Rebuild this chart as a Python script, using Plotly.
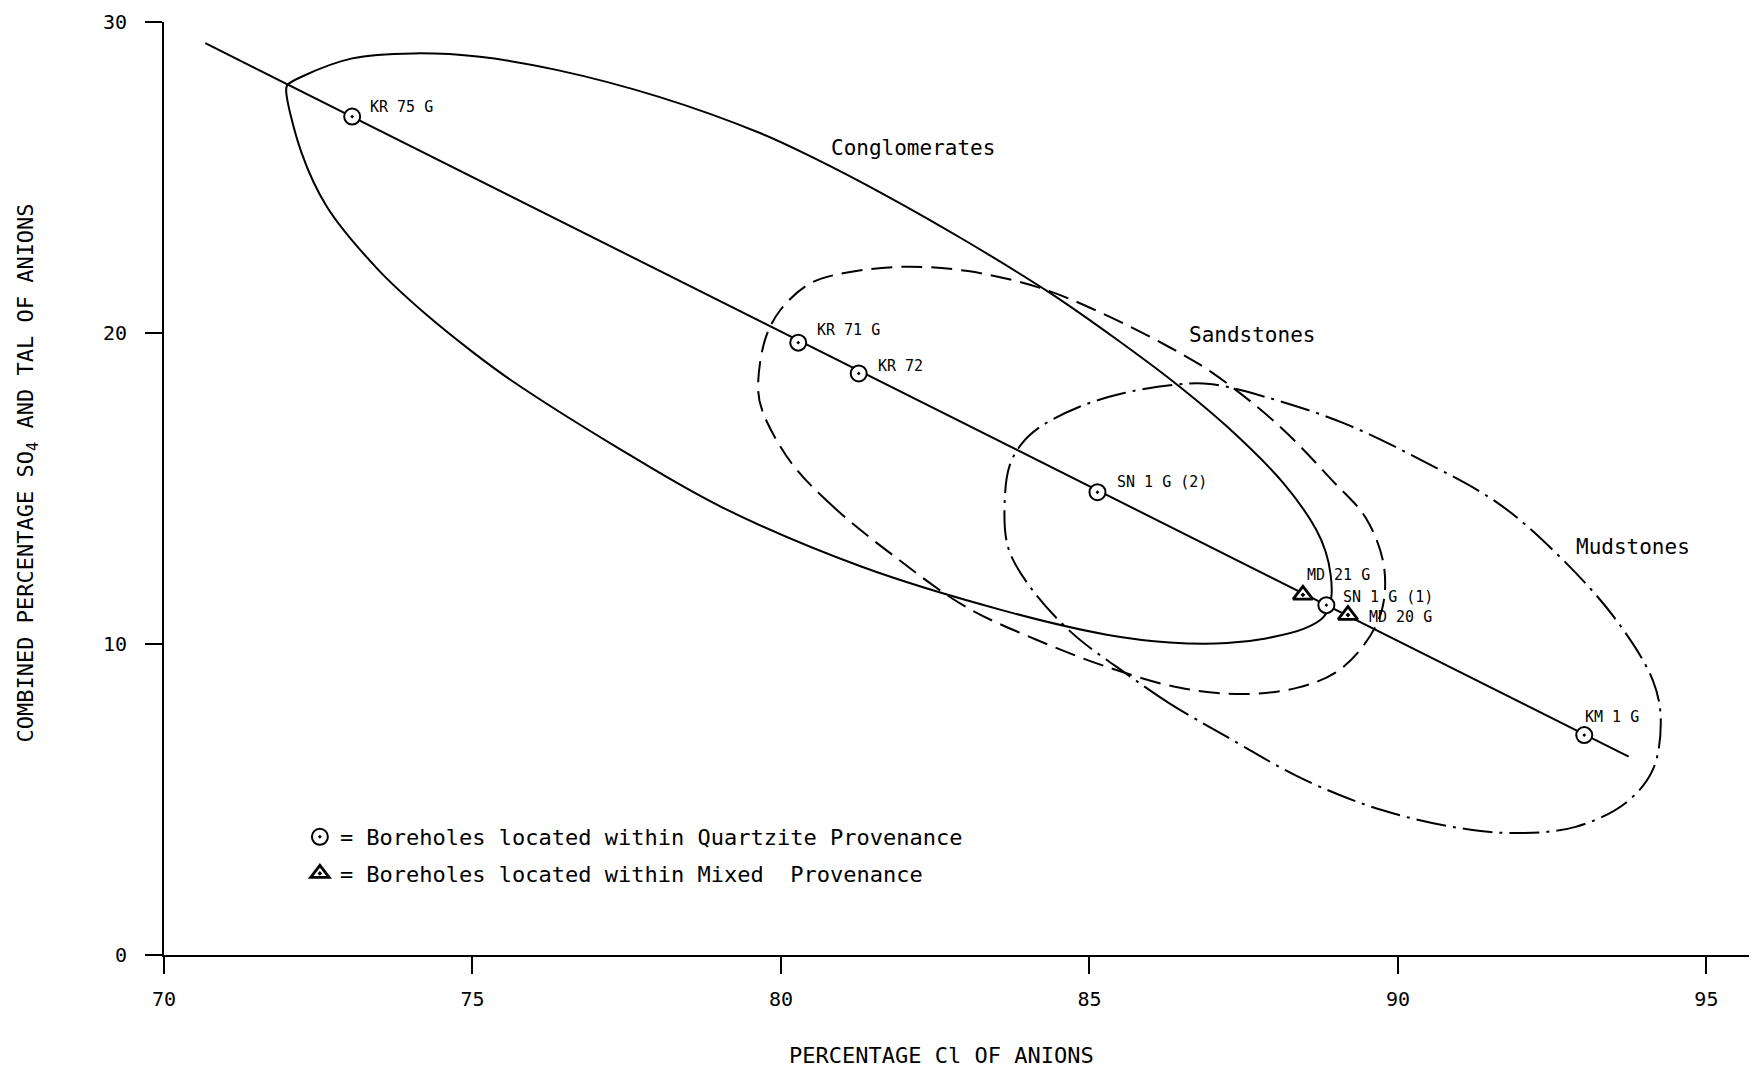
import plotly.graph_objects as go

# ---------------- data ----------------
quartz_names = ["KR 75 G", "KR 71 G", "KR 72", "SN 1 G (2)", "SN 1 G (1)", "KM 1 G"]
quartz_cl = [73.05, 80.28, 81.26, 85.13, 88.84, 93.02]
quartz_so4 = [26.96, 19.69, 18.70, 14.88, 11.25, 7.07]

mixed_names = ["MD 21 G", "MD 20 G"]
mixed_cl = [88.46, 89.19]
mixed_so4 = [11.58, 10.93]

trend_cl = [70.67, 93.74]
trend_so4 = [29.32, 6.38]

congl_cl = [72.00, 72.23, 73.05, 74.04, 75.12, 76.36, 78.01, 79.66, 80.49, 81.74,
            82.97, 84.36, 85.41, 86.35, 87.23, 88.14, 88.67, 88.83, 88.91, 88.92,
            88.80, 88.49, 87.86, 87.23, 86.30, 85.28, 83.58, 81.30, 79.03, 77.33,
            75.62, 75.02, 74.27, 73.47, 72.64, 72.23, 71.98, 72.00]
congl_so4 = [27.97, 28.24, 28.83, 28.99, 28.88, 28.46, 27.60, 26.43, 25.67, 24.38,
             22.99, 21.29, 19.84, 18.45, 16.99, 15.18, 13.70, 12.96, 12.22, 11.51,
             10.88, 10.50, 10.18, 10.03, 10.05, 10.30, 11.09, 12.49, 14.41, 16.34,
             18.49, 19.36, 20.56, 22.04, 24.06, 25.79, 27.81, 27.97]

sand_cl = [81.87, 80.85, 80.17, 79.71, 79.63, 79.74, 79.99, 80.49, 81.12, 82.01,
           83.03, 84.20, 85.20, 86.29, 87.00, 88.06, 88.93, 89.48, 89.77, 89.74,
           89.45, 88.98, 88.36, 87.52, 86.47, 85.29, 84.15, 83.00, 81.87]
sand_so4 = [12.77, 14.41, 15.82, 17.43, 18.17, 19.77, 20.74, 21.61, 21.96, 22.13,
            21.99, 21.45, 20.64, 19.55, 18.71, 17.04, 15.27, 14.05, 12.54, 11.09,
            9.97, 9.07, 8.59, 8.39, 8.59, 9.26, 10.13, 11.19, 12.77]

mud_cl = [87.23, 86.29, 85.63, 84.72, 84.04, 83.68, 83.63, 83.71, 83.91, 84.20,
          84.84, 85.56, 86.35, 86.95, 87.86, 89.11, 90.37, 91.62, 92.56, 93.50,
          94.13, 94.26, 94.13, 93.69, 92.88, 91.94, 91.00, 89.74, 88.49, 87.23]
mud_so4 = [7.01, 8.10, 9.00, 10.35, 11.83, 13.12, 14.73, 15.76, 16.46, 16.98,
           17.63, 18.07, 18.33, 18.36, 17.94, 17.11, 15.92, 14.53, 12.93, 10.87,
           8.84, 7.56, 5.95, 4.89, 4.12, 3.92, 4.08, 4.66, 5.63, 7.01]

field_names = ["Conglomerates", "Sandstones", "Mudstones"]
field_label_cl = [80.78, 86.58, 92.85]
field_label_so4 = [25.95, 19.94, 13.12]

x_ticks = [70, 75, 80, 85, 90, 95]
y_ticks = [0, 10, 20, 30]

# label offsets in pixels (style)
quartz_offsets = [(16, 10), (17, 13), (17, 7), (18, 10), (15, 8), (-1, 18)]
mixed_offsets = [(2, 20), (19, -2)]

FONT = "DejaVu Sans Mono"
# page body has an 8px margin in the browser
W, H = 1749, 1061
ML, MR, MT = 155.6, 0, 14
MB = H - MT - 933

fig = go.Figure()

fig.add_trace(go.Scatter(x=congl_cl, y=congl_so4, mode="lines",
                         line=dict(color="black", width=2, shape="spline", smoothing=1.0),
                         showlegend=False, hoverinfo="skip"))
fig.add_trace(go.Scatter(x=sand_cl, y=sand_so4, mode="lines",
                         line=dict(color="black", width=2, shape="spline", smoothing=1.0,
                                   dash="21px,9px"),
                         showlegend=False, hoverinfo="skip"))
fig.add_trace(go.Scatter(x=mud_cl, y=mud_so4, mode="lines",
                         line=dict(color="black", width=2, shape="spline", smoothing=1.0,
                                   dash="30px,7px,3px,7px"),
                         showlegend=False, hoverinfo="skip"))
fig.add_trace(go.Scatter(x=trend_cl, y=trend_so4, mode="lines",
                         line=dict(color="black", width=2),
                         showlegend=False, hoverinfo="skip"))

fig.add_trace(go.Scatter(x=quartz_cl, y=quartz_so4, mode="markers",
                         name="= Boreholes located within Quartzite Provenance",
                         marker=dict(symbol="circle-dot", size=16, color="white",
                                     line=dict(color="black", width=2)),
                         legendgroup="q"))
fig.add_trace(go.Scatter(x=mixed_cl, y=mixed_so4, mode="markers",
                         name="= Boreholes located within Mixed\u00a0 Provenance",
                         marker=dict(symbol="triangle-up-dot", size=17, color="white",
                                     line=dict(color="black", width=2.8)),
                         legendgroup="m"))

annotations = []
for n, x, y, (dx, dy) in zip(quartz_names, quartz_cl, quartz_so4, quartz_offsets):
    annotations.append(dict(x=x, y=y, xref="x", yref="y", text=n, showarrow=False,
                            xanchor="left", yanchor="middle", xshift=dx, yshift=dy,
                            font=dict(family=FONT, size=15, color="black")))
for n, x, y, (dx, dy) in zip(mixed_names, mixed_cl, mixed_so4, mixed_offsets):
    annotations.append(dict(x=x, y=y, xref="x", yref="y", text=n, showarrow=False,
                            xanchor="left", yanchor="middle", xshift=dx, yshift=dy,
                            font=dict(family=FONT, size=15, color="black")))
for n, x, y in zip(field_names, field_label_cl, field_label_so4):
    annotations.append(dict(x=x, y=y, xref="x", yref="y", text=n, showarrow=False,
                            xanchor="left", yanchor="middle",
                            font=dict(family=FONT, size=21, color="black")))

annotations.append(dict(x=0.4879, y=-0.1072, xref="paper", yref="paper",
                        text="PERCENTAGE Cl OF ANIONS", showarrow=False,
                        xanchor="center", yanchor="middle",
                        font=dict(family=FONT, size=22, color="black")))
annotations.append(dict(x=-0.0857, y=0.5166, xref="paper", yref="paper",
                        text="COMBINED PERCENTAGE SO<sub>4</sub> AND TAL OF ANIONS",
                        showarrow=False, textangle=-90,
                        xanchor="center", yanchor="middle",
                        font=dict(family=FONT, size=22, color="black")))

fig.update_layout(
    width=W, height=H, autosize=False,
    margin=dict(l=ML, r=MR, t=MT, b=MB, pad=0),
    paper_bgcolor="white", plot_bgcolor="white",
    font=dict(family=FONT, color="black"),
    annotations=annotations,
    showlegend=True,
    legend=dict(x=0.0853, y=0.149, xanchor="left", yanchor="top",
                bgcolor="rgba(0,0,0,0)", font=dict(family=FONT, size=22),
                tracegroupgap=5, itemwidth=30),
    xaxis=dict(range=[70, 95.82], tickvals=x_ticks, ticks="outside", ticklen=17,
               tickwidth=2, tickcolor="black", showline=True, linecolor="black",
               linewidth=2, showgrid=False, zeroline=False,
               tickfont=dict(family=FONT, size=20), ticklabelstandoff=8),
    yaxis=dict(range=[0, 30], tickvals=y_ticks, ticks="outside", ticklen=17,
               tickwidth=2, tickcolor="black", showline=True, linecolor="black",
               linewidth=2, showgrid=False, zeroline=False,
               tickfont=dict(family=FONT, size=20), ticklabelstandoff=14),
)

fig.write_html("out.html")
